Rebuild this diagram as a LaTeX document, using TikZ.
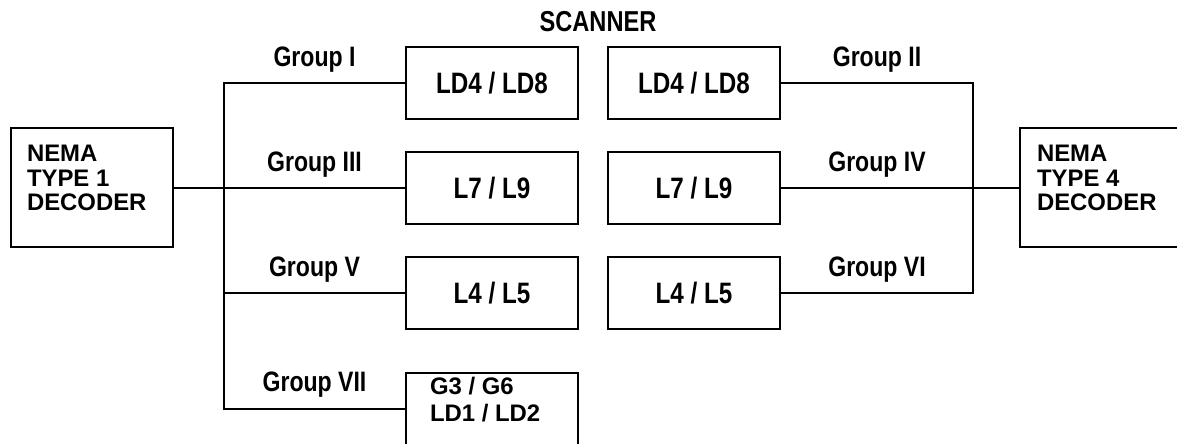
\documentclass[tikz,border=0pt]{standalone}
\usepackage{fontspec}
\setmainfont{Liberation Sans}
\newfontfamily\narrowfont[FakeStretch=0.82]{Liberation Sans}
\begin{document}
\begin{tikzpicture}[
    line width=1.4pt,
    box/.style={draw, minimum width=4.3cm, minimum height=1.8cm, inner sep=0pt,
      font=\narrowfont\bfseries\fontsize{21}{24}\selectfont},
    dec/.style={draw, minimum width=4.05cm, minimum height=2.975cm, inner sep=0pt},
    grp/.style={midway, anchor=base, yshift=0.42cm, inner sep=0pt,
      font=\narrowfont\bfseries\fontsize{20}{22}\selectfont},
    txt/.style={anchor=north west, inner sep=0pt, align=left,
      font=\bfseries\fontsize{17}{17.4}\selectfont}
  ]
    \useasboundingbox (0,0) rectangle (29.425,11.075);
    \clip (0,0) rectangle (29.425,11.075);

    % 标题
    \node[anchor=base, inner sep=0pt, font=\narrowfont\bfseries\fontsize{20.5}{22}\selectfont]
      (scan) at (14.95,10.275) {SCANNER};

    % 解码器
    \node[dec] (t1dec) at (2.3,6.38) {};
    \node[txt] (t1txt) at ([shift={(0.4,-0.425)}]t1dec.north west) {NEMA\\TYPE 1\\DECODER};
    \node[dec] (t4dec) at (27.525,6.38) {};
    \node[txt] (t4txt) at ([shift={(0.425,-0.425)}]t4dec.north west) {NEMA\\TYPE 4\\DECODER};

    % 扫描器分组
    \node[box] (ld48a) at (12.3,9.0) {LD4 / LD8};
    \node[box] (ld48b) at (17.35,9.0) {LD4 / LD8};
    \node[box] (l79a) at (12.3,6.38) {L7 / L9};
    \node[box] (l79b) at (17.35,6.38) {L7 / L9};
    \node[box] (l45a) at (12.3,3.74) {L4 / L5};
    \node[box] (l45b) at (17.35,3.74) {L4 / L5};
    \node[box] (g36) at (12.3,0.86) {};
    \node[txt, font=\bfseries\fontsize{17}{19.2}\selectfont] (g36txt)
      at ([shift={(0.6,-0.125)}]g36.north west) {G3 / G6\\LD1 / LD2};

    % 左总线
    \coordinate (ltop) at (5.6,9.0);
    \coordinate (lbot) at (5.6,0.86);
    \draw (ld48a.west) -- node[grp] {Group I} (ltop) -- (lbot)
      -- node[grp] {Group VII} (g36.west);
    \draw (t1dec.east) -- (l79a.west -| ltop) -- node[grp] {Group III} (l79a.west);
    \draw (l45a.west -| ltop) -- node[grp] {Group V} (l45a.west);

    % 右总线
    \coordinate (rtop) at (24.325,9.0);
    \coordinate (rbot) at (24.325,3.74);
    \draw (ld48b.east) -- node[grp] {Group II} (rtop) -- (rbot)
      -- node[grp] {Group VI} (l45b.east);
    \draw (l79b.east) -- node[grp] {Group IV} (l79b.east -| rtop) -- (t4dec.west);
\end{tikzpicture}
\end{document}
